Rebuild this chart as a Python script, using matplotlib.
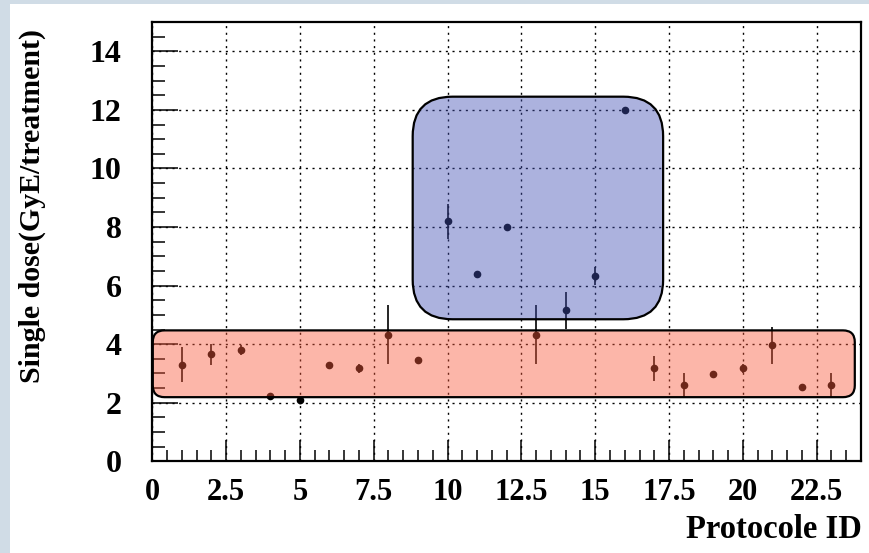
import matplotlib
matplotlib.use("Agg")
import matplotlib.pyplot as plt
from matplotlib.patches import FancyBboxPatch, Rectangle
from matplotlib.ticker import MultipleLocator, FixedLocator

protocol_id = list(range(1, 24))
dose = [3.3, 3.65, 3.8, 2.22, 2.1, 3.3, 3.17, 4.32, 3.45, 8.2, 6.4, 8.0,
        4.32, 5.15, 6.32, 12.0, 3.17, 2.6, 2.98, 3.18, 3.96, 2.55, 2.6]
dose_err = [0.6, 0.35, 0.18, 0, 0, 0, 0.15, 1.0, 0.1, 0.6, 0, 0,
            1.0, 0.63, 0.3, 0, 0.43, 0.4, 0, 0.15, 0.63, 0.1, 0.4]
x_ticks = [0, 2.5, 5, 7.5, 10, 12.5, 15, 17.5, 20, 22.5]
x_tick_labels = ["0", "2.5", "5", "7.5", "10", "12.5", "15", "17.5", "20", "22.5"]
y_ticks = [0, 2, 4, 6, 8, 10, 12, 14]
y_tick_labels = ["0", "2", "4", "6", "8", "10", "12", "14"]
# highlighted regions: (x0, x1, y0, y1)
blue_region = (8.82, 17.3, 4.85, 12.45)
red_region = (0.02, 23.79, 2.19, 4.47)

W, H = 870, 553
fig = plt.figure(figsize=(W / 100, H / 100), dpi=100)
fig.patch.set_facecolor("#d0dce6")
fig.patches.append(Rectangle((10 / W, 0), 1, (H - 4) / H, transform=fig.transFigure,
                             facecolor="white", edgecolor="none", zorder=-10))

ax = fig.add_axes([152.2 / W, (H - 461.3) / H, (861 - 152.2) / W, (461.3 - 22) / H])
ax.set_xlim(0, 24)
ax.set_ylim(0, 15)

font = {"family": "Liberation Serif", "weight": "bold"}

ax.set_axisbelow(True)
ax.grid(True, which="major", color="black", linestyle=(0, (1.5, 3.3)), linewidth=1.0)

ax.errorbar(protocol_id, dose, yerr=dose_err, fmt="o", color="black", ecolor="black",
            markersize=4.5, elinewidth=1.2, capsize=0, zorder=3)

for (x0, x1, y0, y1), col, rad in [(blue_region, "#4350b4", 1.35),
                                   (red_region, "#fa5a3c", 0.4)]:
    p = FancyBboxPatch((x0, y0), x1 - x0, y1 - y0,
                       boxstyle=f"round,pad=0,rounding_size={rad}",
                       facecolor=col, alpha=0.44, edgecolor="none", zorder=4)
    ax.add_patch(p)
    e = FancyBboxPatch((x0, y0), x1 - x0, y1 - y0,
                       boxstyle=f"round,pad=0,rounding_size={rad}",
                       facecolor="none", edgecolor="black", linewidth=1.6, zorder=5)
    ax.add_patch(e)

ax.xaxis.set_major_locator(FixedLocator(x_ticks))
ax.set_xticklabels(x_tick_labels, fontdict=font, fontsize=22)
ax.xaxis.set_minor_locator(MultipleLocator(0.5))
ax.yaxis.set_major_locator(FixedLocator(y_ticks))
ax.set_yticklabels(y_tick_labels, fontdict=font, fontsize=23)
ax.yaxis.set_minor_locator(MultipleLocator(0.5))

ax.tick_params(axis="both", which="both", direction="in", top=False, right=False,
               width=1.1, color="black")
ax.tick_params(axis="x", which="major", length=15, pad=12)
ax.tick_params(axis="x", which="minor", length=8)
ax.tick_params(axis="y", which="major", length=19, pad=22)
ax.tick_params(axis="y", which="minor", length=9)
for s in ax.spines.values():
    s.set_linewidth(1.6)

fig.text(862 / W, 1 - 530 / H, "Protocole ID", ha="right", va="center", fontsize=23.5, **font)
fig.text(32 / W, 1 - 206 / H, "Single dose(GyE/treatment)", ha="center", va="center",
         rotation=90, fontsize=21.5, **font)

fig.savefig("out.png", dpi=100)
